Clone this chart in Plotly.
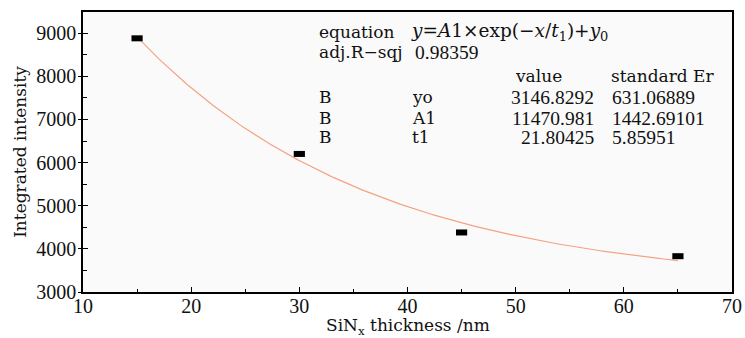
import numpy as np
import plotly.graph_objects as go

# ---- data ----
thickness_nm = [15, 30, 45, 65]
intensity = [8880, 6200, 4380, 3830]

# fit parameters printed in the chart (y = A1*exp(-x/t1) + y0)
fit_y0 = 3146.8292
fit_A1 = 11470.981
fit_t1 = 21.80425
adj_r2 = "0.98359"
param_names = ["yo", "A1", "t1"]
param_values = ["3146.8292", "11470.981", "21.80425"]
param_errors = ["631.06889", "1442.69101", "5.85951"]

x_tick_vals = [10, 20, 30, 40, 50, 60, 70]
y_tick_vals = [3000, 4000, 5000, 6000, 7000, 8000, 9000]

# fitted curve from the chart's own fit equation
fit_x = np.linspace(min(thickness_nm), max(thickness_nm), 200)
fit_y = fit_A1 * np.exp(-fit_x / fit_t1) + fit_y0

fig = go.Figure()
fig.add_trace(go.Scatter(x=fit_x, y=fit_y, mode="lines",
                         line=dict(color="#F5A283", width=1.2),
                         showlegend=False, hoverinfo="skip"))
fig.add_trace(go.Scatter(x=thickness_nm, y=intensity, mode="markers",
                         marker=dict(symbol="line-ew", size=8, color="black",
                                     line=dict(color="black", width=6)),
                         showlegend=False))

# layout helpers (pixel -> paper), plot area 83..732 x 12..291.7
L, R, T, B = 83, 732, 12, 291.7
def px(x):
    return (x - L) / (R - L)
def py(y):
    return (B - y) / (B - T)

WORD = dict(family="DejaVu Serif", size=17, color="#111111")
NUM = dict(family="Liberation Serif", size=19.5, color="#111111")

ann = []
def add(text, x, y, font, anchor="left"):
    ann.append(dict(text=text, x=px(x), y=py(y), xref="paper", yref="paper",
                    xanchor=anchor, yanchor="middle", showarrow=False, font=font))

rows_y = [32, 52, 76, 97, 118, 137]
add("equation", 317, rows_y[0], WORD)
add("<i>y</i>=<i>A</i>1×exp(−<i>x</i>/<i>t</i><sub>1</sub>)+<i>y</i><sub>0</sub>",
    409, rows_y[0], dict(family="DejaVu Serif", size=18.5, color="#111111"))
add("adj.R−sqj", 317, rows_y[1], WORD)
add(adj_r2, 413, rows_y[1], NUM)
add("value", 513, rows_y[2], WORD)
add("standard Er", 609, rows_y[2], WORD)
for i, (nm, v, e) in enumerate(zip(param_names, param_values, param_errors)):
    yy = rows_y[3 + i]
    add("B", 317, yy, WORD)
    add(nm, 410, yy, WORD)
    add(v, 596, yy, NUM, anchor="right")
    add(e, 610, yy, NUM)

# x-axis title
add("SiN<sub>x</sub> thickness /nm", (L + R) / 2, 326,
    dict(family="DejaVu Serif", size=17, color="#111111"), anchor="center")

TICKFONT = dict(family="Liberation Serif", size=20, color="#111111")

fig.update_layout(
    width=745, height=338,
    margin=dict(l=L, r=745 - R, t=T, b=338 - B, autoexpand=False),
    paper_bgcolor="white", plot_bgcolor="#FAFAFA",
    annotations=ann,
    xaxis=dict(range=[10, 70], tickvals=x_tick_vals, ticks="inside", ticklen=5,
               tickwidth=1.2, tickcolor="black", automargin=False,
               minor=dict(dtick=5, ticks="inside", ticklen=3, tickcolor="black", tickwidth=1.2),
               showline=True, linecolor="black", linewidth=1.6, mirror=True,
               showgrid=False, zeroline=False, showticklabels=False),
    # label-only axis, placed so the labels sit close under the frame
    xaxis2=dict(range=[10, 70], tickvals=x_tick_vals, overlaying="x", anchor="free",
                position=0, side="bottom", ticks="", automargin=False,
                showline=False, showgrid=False, zeroline=False,
                tickfont=TICKFONT, ticklabelstandoff=0),
    yaxis=dict(range=[3000, 9490], tickvals=y_tick_vals, ticks="inside", ticklen=5,
               tickwidth=1.2, tickcolor="black", automargin=False,
               minor=dict(dtick=500, ticks="inside", ticklen=4, tickcolor="black", tickwidth=1.2),
               showline=True, linecolor="black", linewidth=1.6, mirror=True,
               showgrid=False, zeroline=False,
               tickfont=TICKFONT, ticklabelstandoff=1,
               title=dict(text="Integrated intensity", standoff=5,
                          font=dict(family="DejaVu Serif", size=17, color="#111111"))),
    yaxis2=dict(range=[3000, 9490], tickvals=y_tick_vals, overlaying="y", side="left",
                ticks="outside", ticklen=4, tickwidth=1.2, tickcolor="black",
                automargin=False,
                showticklabels=False, showline=False, showgrid=False, zeroline=False),
)
# invisible traces to activate the helper axes
fig.add_trace(go.Scatter(x=[None], y=[None], yaxis="y2", showlegend=False, hoverinfo="skip"))
fig.add_trace(go.Scatter(x=[None], y=[None], xaxis="x2", showlegend=False, hoverinfo="skip"))

fig.write_html("out.html")
